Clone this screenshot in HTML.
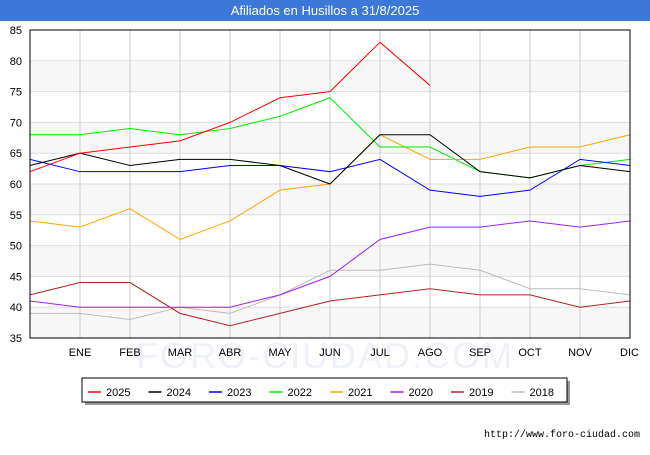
<!DOCTYPE html>
<html><head><meta charset="utf-8"><style>
body{margin:0;background:#fff;font-family:"Liberation Sans","DejaVu Sans",sans-serif;}
</style></head><body>
<svg width="650" height="450" viewBox="0 0 650 450" xmlns="http://www.w3.org/2000/svg">
<rect x="0" y="0" width="650" height="450" fill="#fff"/>
<rect x="0" y="0" width="650" height="21" fill="#3b78d8"/>
<text x="325" y="15" text-anchor="middle" font-size="13" fill="#fff" font-family="Liberation Sans, sans-serif">Afiliados en Husillos a 31/8/2025</text>
<g id="bands"></g>
<g id="grid"></g>
<text x="325" y="368" text-anchor="middle" font-size="36" fill="#eef1f8" font-family="Liberation Sans, sans-serif" letter-spacing="2">FORO-CIUDAD.COM</text>
<g id="series"></g>
<rect x="30" y="30" width="600" height="308" fill="none" stroke="#000" stroke-width="1"/>
<g id="yticks" font-size="11" fill="#000" font-family="Liberation Sans, sans-serif"></g>
<g id="xticks" font-size="11" fill="#000" font-family="Liberation Sans, sans-serif"></g>
<rect x="85" y="381" width="485" height="24" fill="#999"/>
<rect x="82" y="378" width="485" height="24" fill="#fff" stroke="#000" stroke-width="1"/>
<g id="legend" font-size="11" font-family="Liberation Sans, sans-serif"></g>
<text x="640" y="437" text-anchor="end" font-size="10" fill="#000" font-family="Liberation Mono, monospace">http://www.foro-ciudad.com</text>
</svg>
<script>
const categories=["","ENE","FEB","MAR","ABR","MAY","JUN","JUL","AGO","SEP","OCT","NOV","DIC"];
const yTicks=[35,40,45,50,55,60,65,70,75,80,85];
const years=["2025","2024","2023","2022","2021","2020","2019","2018"];
const colors=["#ff0000","#000000","#0000ff","#00ee00","#ffa500","#a020f0","#b22222","#bbbbbb"];
const s2025=[62,65,66,67,70,74,75,83,76];
const s2024=[63,65,63,64,64,63,60,68,68,62,61,63,62];
const s2023=[64,62,62,62,63,63,62,64,59,58,59,64,63];
const s2022=[68,68,69,68,69,71,74,66,66,62,61,63,64];
const s2021=[54,53,56,51,54,59,60,68,64,64,66,66,68];
const s2020=[41,40,40,40,40,42,45,51,53,53,54,53,54];
const s2019=[42,44,44,39,37,39,41,42,43,42,42,40,41];
const s2018=[39,39,38,40,39,42,46,46,47,46,43,43,42];
const seriesData=[s2025,s2024,s2023,s2022,s2021,s2020,s2019,s2018];
const NS="http://www.w3.org/2000/svg";
const X0=30,X1=630,Y0=338,Y1=30,YMIN=35,YMAX=85;
const xs=i=>X0+i*(X1-X0)/(categories.length-1);
const ys=v=>Y0-(v-YMIN)*(Y0-Y1)/(YMAX-YMIN);
function mk(t,a,p){const e=document.createElementNS(NS,t);for(const k in a)e.setAttribute(k,a[k]);p.appendChild(e);return e;}
const bands=document.getElementById('bands'),grid=document.getElementById('grid');
for(let i=0;i<yTicks.length-1;i++){
  if(i%2===0){const r=mk('rect',{x:X0,y:ys(yTicks[i+1]),width:X1-X0,height:ys(yTicks[i])-ys(yTicks[i+1]),fill:'#f7f7f7'},bands);
  
  }
}
yTicks.forEach(v=>{const l=mk('line',{x1:X0,x2:X1,y1:ys(v),y2:ys(v),stroke:'#dddddd','stroke-width':1},grid);


const t=mk('text',{x:X0-8,y:ys(v)+4,'text-anchor':'end'},document.getElementById('yticks'));t.textContent=v;

});
categories.forEach((c,i)=>{if(i===0)return;const l=mk('line',{x1:xs(i),x2:xs(i),y1:Y1,y2:Y0,stroke:'#cccccc','stroke-width':1},grid);


const t=mk('text',{x:xs(i),y:356,'text-anchor':i===12?'end':'middle'},document.getElementById('xticks'));if(i===12)t.setAttribute('x',xs(i)+9);t.textContent=c;

});
const sg=document.getElementById('series');
for(let k=seriesData.length-1;k>=0;k--){const d=seriesData[k];
  const p=mk('polyline',{points:d.map((v,i)=>xs(i)+','+ys(v)).join(' '),fill:'none',stroke:colors[k],'stroke-width':1},sg);
  
  }
const lg=document.getElementById('legend');
years.forEach((y,k)=>{const x=88+k*60.5;
  const l=mk('line',{x1:x,x2:x+13,y1:392,y2:392,stroke:colors[k],'stroke-width':1.5},lg);
  
  
  const t=mk('text',{x:x+18,y:396,fill:'#000'},lg);t.textContent=y;
  
  });
</script>
</body></html>
